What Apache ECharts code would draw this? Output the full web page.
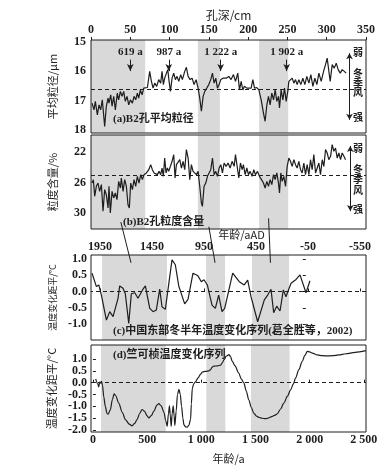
<!DOCTYPE html>
<html>
<head>
<meta charset="utf-8">
<script src="https://cdn.jsdelivr.net/npm/echarts@6/dist/echarts.min.js"></script>
<style>
  html, body { margin: 0; padding: 0; background: #fff; }
  #chart { width: 381px; height: 475px; }
</style>
</head>
<body>
<div id="chart"></div>
<script>
// (a) B2 mean grain size, depth in cm
const depthA = [1.3,3.8,5.5,8.1,10.2,12.3,14.4,17.4,19.5,21.7,22.9,25.1,26.8,28.9,31.0,33.5,35.2,37.4,39.5,41.6,43.7,45.9,48.0,50.1,52.7,54.8,56.9,59.0,60.7,62.8,65.0,67.1,69.2,71.8,74.7,76.9,79.0,81.1,83.6,86.2,88.7,90.4,92.1,93.8,96.0,97.7,99.4,101.1,103.2,105.3,107.4,109.5,111.7,114.2,116.3,119.3,121.4,123.6,126.1,128.7,131.2,133.8,136.3,138.4,140.5,142.7,144.8,147.3,149.9,152.4,154.6,156.7,158.8,160.9,163.1,165.2,168.1,
  172.0,175.4,178.3,181.3,183.9,186.8,189.0,191.1,193.2,195.3,198.3,200.8,203.8,206.0,208.1,211.0,213.6,216.6,219.5,221.6,223.8,225.9,228.0,230.1,232.3,234.4,236.5,238.6,239.9,242.0,244.2,246.3,248.4,250.5,251.8,253.9,256.0,258.2,260.3,262.4,264.5,267.1,269.6,272.2,274.7,277.3,279.8,282.4,284.9,287.5,290.0,293.0,296.0,298.5,300.6,302.7,304.4,307.0,309.5,312.1,314.6,317.2,319.7,322.3,324.8];
const meanSize = [17.08,17.31,17.02,17.48,17.14,17.31,16.97,17.88,17.19,16.91,17.08,16.80,17.19,16.85,17.31,16.74,16.97,16.68,16.85,16.68,17.02,16.85,17.14,16.97,17.08,16.85,16.97,16.74,16.91,16.63,16.80,16.57,16.63,16.55,16.00,16.34,16.57,16.40,16.51,16.28,16.40,16.00,16.45,16.23,16.06,15.94,16.34,16.68,16.23,16.06,16.28,16.17,16.34,16.11,16.28,16.00,15.86,16.17,16.28,16.23,16.45,16.28,16.57,16.91,17.36,16.85,16.68,16.57,16.45,16.28,16.06,16.40,16.23,16.57,16.45,16.28,16.23,
  16.23,16.17,16.28,16.11,16.34,16.06,16.63,16.34,16.63,16.51,16.57,16.51,16.57,16.28,16.57,16.55,16.63,16.97,17.42,17.70,17.14,16.85,17.14,16.74,16.97,16.63,17.02,16.85,17.25,16.63,16.97,16.57,17.02,16.68,16.34,16.40,16.23,16.40,16.28,16.45,16.28,16.45,16.23,16.45,16.17,16.40,16.11,16.51,16.23,16.45,16.06,16.34,16.00,15.77,15.55,15.60,16.34,15.77,15.89,15.72,15.94,16.06,15.94,16.00,16.06];

// (b) B2 grain-size fraction content, %
const depthB = [1.3,3.0,4.7,6.8,8.9,11.0,13.2,15.3,17.4,19.5,21.7,22.9,24.6,26.8,28.9,31.0,33.1,35.2,37.4,38.6,40.8,42.9,45.0,47.1,48.8,50.5,52.7,54.8,56.9,59.0,61.1,63.3,65.4,67.5,70.5,73.5,76.0,78.1,80.3,82.4,84.5,86.6,88.7,90.4,92.1,93.8,95.5,97.2,98.9,101.1,103.2,105.3,107.0,108.7,110.8,113.0,115.1,117.2,119.3,121.4,123.6,125.7,127.8,129.9,132.0,134.2,136.3,138.4,140.5,141.8,143.9,146.1,148.2,150.3,152.4,154.6,156.7,158.8,160.9,163.1,165.2,167.3,169.4,
  172.0,174.5,177.1,179.6,182.2,183.9,186.0,188.1,190.2,192.4,194.0,196.2,198.3,200.4,202.5,205.1,207.2,209.3,211.9,214.4,217.0,219.5,221.6,223.8,225.9,228.0,230.1,232.3,234.4,236.5,238.6,239.9,241.6,243.3,245.4,247.6,249.7,251.8,253.9,256.0,258.2,260.3,262.4,264.5,266.7,268.8,270.9,273.0,275.1,277.3,279.4,281.5,283.6,285.8,287.9,290.0,292.1,294.3,296.4,298.5,300.6,302.7,304.9,307.0,309.1,311.2,313.4,315.5,317.6,319.7,321.9,324.0];
const content = [26.07,25.63,27.81,26.50,26.07,27.16,26.28,29.78,26.94,27.60,29.34,26.50,30.00,27.16,28.03,27.38,28.25,25.85,26.72,25.41,27.16,25.63,26.50,28.91,29.34,26.07,26.94,25.63,26.50,25.19,26.07,24.97,25.63,24.97,24.75,24.32,23.66,24.32,24.75,24.54,24.97,24.54,24.97,24.10,25.19,22.79,24.75,24.10,24.54,24.32,23.22,22.35,25.41,23.66,23.88,23.01,24.10,23.22,24.32,21.69,22.79,25.63,23.66,24.54,24.32,24.97,24.54,26.50,28.69,29.13,26.50,26.07,25.19,24.97,24.32,22.79,24.97,24.54,25.19,24.10,23.66,24.75,23.44,
  23.88,23.44,24.10,23.22,23.88,22.35,22.57,25.41,23.44,24.32,23.66,24.97,24.10,24.97,24.54,25.19,24.32,24.97,24.54,25.19,25.63,26.07,26.72,25.85,26.50,25.63,26.28,24.97,25.63,24.75,26.07,27.38,24.75,25.85,25.19,26.50,23.88,22.79,23.22,23.88,23.01,23.66,24.10,23.22,24.32,24.75,23.44,24.97,23.66,24.97,23.01,24.32,22.35,24.75,24.54,23.44,24.97,23.01,23.88,21.69,22.13,23.01,22.57,21.04,21.91,21.48,22.79,22.13,23.01,22.13,22.57,23.01];

// (c) winter half-year temperature anomaly, eastern China (year AD)
const yearC = [2027,1985,1962,1937,1889,1857,1825,1777,1761,1729,1707,1674,1649,1616,1585,1537,1514,1472,1440,1409,1376,1354,1322,1258,1226,1193,1136,1104,1056,1008,976,950,918,873,841,809,777,751,674,611,563,530,498,434,370,338,306,280,251,219,187,162,113,65,27,-31,-69];
const tempC = [0.56,0.15,0.2,-0.11,-0.88,-0.62,-0.77,-0.21,0.17,0.1,-0.07,-0.98,-0.07,-0.04,-0.21,0.07,0.17,-0.52,-0.62,-0.57,0.07,-0.47,-0.55,0.97,0.82,0.17,-0.38,-0.24,0.56,0.48,0.3,0.36,0.2,-0.42,-0.52,-0.11,-0.62,-0.52,0.56,0.3,0.2,0.35,-0.16,-0.93,-0.26,-0.11,0.07,-0.65,-0.45,-0.6,0.05,-0.16,0.25,0.37,0.51,-0.04,0.33];

// (d) Zhu Kezhen temperature curve (age, a)
const ageD = [25,45,53,62,70,78,88,100,114,130,140,160,180,195,210,238,270,300,335,361,385,407,430,454,475,500,516,540,562,590,608,630,655,672,685,697,706,714,722,731,741,749,756,768,780,794,806,818,830,840,855,870,885,901,908,917,930,947,970,994,1010,1040,1070,1086,1100,1118,1150,1179,1195,1210,1230,1255,1270,1284,1310,1345,1370,1392,1415,1438,1462,1484,1510,1531,1560,1593,1625,1655,1680,1701,1730,1762,1795,1824,1850,1870,1900,1932,1955,1979,2000,2025,2070,2118,2165,2210,2270,2333,2420,2519];
const tempD = [0.16,-0.05,-0.18,0.02,-0.02,0.06,-0.1,-0.6,-1.0,-1.3,-1.33,-1.15,-0.7,-0.47,-0.55,-0.86,-1.25,-1.56,-1.75,-1.82,-1.72,-1.56,-1.3,-1.13,-1.2,-1.4,-1.49,-1.38,-1.2,-0.95,-0.88,-0.98,-1.25,-1.6,-1.84,-1.3,-0.98,-1.4,-1.84,-1.3,-0.98,-1.4,-1.8,-1.2,-0.5,-0.28,-0.5,-1.0,-1.5,-1.78,-1.86,-1.88,-1.8,-1.55,-0.9,-0.23,-0.05,0.04,0.2,0.36,0.45,0.48,0.5,0.55,0.66,0.70,0.71,0.74,0.85,0.97,1.12,1.18,1.1,0.92,0.72,0.41,0.15,0.0,-0.35,-0.72,-1.05,-1.28,-1.41,-1.46,-1.5,-1.52,-1.48,-1.42,-1.37,-1.31,-1.12,-0.86,-0.57,-0.3,-0.05,0.2,0.55,0.9,1.15,1.32,1.3,1.25,1.17,1.14,1.13,1.14,1.17,1.22,1.28,1.35];

// shaded intervals and reference levels
const bandsDepth = [[0, 69], [136, 164], [214, 251]];
const bandsYear = [[1931, 1306], [931, 748], [488, 133]];
const bandsAge = [[74, 671], [1046, 1222], [1458, 1815]];
const meanRef = 16.6;
const contentRef = 25;

// age markers on (a)
const markerDepths = [50, 99, 165, 249];
const markerLabels = ['619 a', '987 a', '1 222 a', '1 902 a'];

// depth -> year tie lines between (b) and (c)
const linkDepths = [38, 150, 226];
const linkTop = [31.2, 31.8, 30.7];
const linkYears = [1652, 844, 311];
const linkBottom = 0.88;

// tick labels
const depthTicks = [0, 50, 100, 150, 200, 250, 300, 350];
const yearTicks = [1950, 1450, 950, 450, -50, -550];
const ageTicks = [0, 500, 1000, 1500, 2000, 2500];
const meanTicks = [15, 16, 17, 18];
const contentTicks = [22, 26, 30];
const tempTicksC = [1.0, 0.5, 0.0, -0.5, -1.0];
const tempTicksD = [1.0, 0.5, 0.0, -0.5, -1.0, -1.5, -2.0];

const serif = "'Liberation Serif', 'Noto Sans CJK SC', serif";
const cjk = "'Noto Sans CJK SC', sans-serif";
const ink = '#1e1e1e';
const shade = '#d9d9d9';

const zip = (xs, ys) => xs.map((x, i) => [x, ys[i]]);
const areas = bands => bands.map(b => [{ xAxis: b[0] }, { xAxis: b[1] }]);
const numLabel = { color: ink, fontFamily: serif, fontWeight: 'bold', fontSize: 12 };
const dashed = { type: [4, 3], color: ink, width: 1 };

function valueAxis(extra) {
  return Object.assign({
    type: 'value',
    axisLine: { show: false },
    splitLine: { show: false },
    axisTick: { show: true, inside: true, length: 3, lineStyle: { color: ink } },
    axisLabel: Object.assign({ margin: 5 }, numLabel),
    nameTextStyle: { color: ink, fontFamily: cjk, fontSize: 11 }
  }, extra);
}

const grids = [
  { left: 91, right: 15, top: 40, height: 93 },
  { left: 91, right: 15, top: 135, height: 94 },
  { left: 91, right: 15, top: 255, height: 85 },
  { left: 91, right: 15, top: 345, height: 87 }
].map(g => Object.assign(g, { show: true, borderColor: ink, borderWidth: 1, backgroundColor: 'transparent', z: 5, outerBoundsMode: 'none' }));

const ageArrows = markerDepths.map((d, i) => [
  { coord: [d, 15.6], symbol: 'none', lineStyle: { type: 'solid', color: ink, width: 1 },
    label: { show: true, position: 'start', distance: 2, formatter: markerLabels[i], color: ink, fontFamily: serif, fontWeight: 'bold', fontSize: 11 } },
  { coord: [d, 15.99], symbol: 'arrow', symbolSize: [5, 7], lineStyle: { type: 'solid', color: ink, width: 1 } }
]);

const option = {
  animation: false,
  grid: grids,
  xAxis: [
    valueAxis({ gridIndex: 0, position: 'top', min: 0, max: 350, name: '孔深/cm', nameLocation: 'middle', nameGap: 19,
      nameTextStyle: { color: ink, fontFamily: cjk, fontSize: 12 },
      axisTick: { show: true, inside: false, length: 3, customValues: depthTicks, lineStyle: { color: ink } },
      axisLabel: Object.assign({ margin: 4, customValues: depthTicks, formatter: v => String(v) }, numLabel) }),
    valueAxis({ gridIndex: 1, min: 0, max: 350, axisTick: { show: false }, axisLabel: { show: false } }),
    valueAxis({ gridIndex: 2, position: 'top', inverse: true, min: -608, max: 2037, name: '年龄/aAD', nameLocation: 'middle', nameGap: 14,
      nameTextStyle: { color: ink, fontFamily: cjk, fontSize: 11, padding: [0, 0, 0, 26] },
      axisTick: { show: true, inside: false, length: 3, customValues: yearTicks, lineStyle: { color: ink } },
      axisLabel: Object.assign({ margin: 2, customValues: yearTicks, formatter: v => String(v) }, numLabel) }),
    valueAxis({ gridIndex: 3, position: 'bottom', min: -18, max: 2520, name: '年龄/a', nameLocation: 'middle', nameGap: 21,
      axisTick: { show: true, inside: true, length: 3, customValues: ageTicks, lineStyle: { color: ink } },
      axisLabel: Object.assign({ margin: 2, customValues: ageTicks,
        formatter: v => v >= 1000 ? String(v).replace(/(\d)(\d{3})$/, '$1 $2') : String(v) }, numLabel) })
  ],
  yAxis: [
    valueAxis({ gridIndex: 0, inverse: true, min: 14.93, max: 18.1, name: '平均粒径/μm', nameLocation: 'middle', nameGap: 33,
      axisTick: { show: true, inside: true, length: 3, customValues: meanTicks, lineStyle: { color: ink } },
      axisLabel: Object.assign({ margin: 5, customValues: meanTicks }, numLabel) }),
    valueAxis({ gridIndex: 1, inverse: true, min: 19.77, max: 32.1, name: '粒度含量/%', nameLocation: 'middle', nameGap: 33,
      axisTick: { show: true, inside: true, length: 3, customValues: contentTicks, lineStyle: { color: ink } },
      axisLabel: Object.assign({ margin: 5, customValues: contentTicks }, numLabel) }),
    valueAxis({ gridIndex: 2, min: -1.49, max: 1.12, name: '温度变化距平/°C', nameLocation: 'middle', nameGap: 33,
      nameTextStyle: { color: ink, fontFamily: cjk, fontSize: 9 },
      axisTick: { show: true, inside: true, length: 3, customValues: tempTicksC, lineStyle: { color: ink } },
      axisLabel: Object.assign({ margin: 4, customValues: tempTicksC, formatter: v => v.toFixed(1) }, numLabel) }),
    valueAxis({ gridIndex: 3, min: -2.08, max: 1.59, name: '温度变化距平/°C', nameLocation: 'middle', nameGap: 30,
      axisTick: { show: true, inside: true, length: 3, customValues: tempTicksD, lineStyle: { color: ink } },
      axisLabel: Object.assign({ margin: 4, customValues: tempTicksD, formatter: v => v.toFixed(1) }, numLabel) })
  ],
  series: [
    {
      type: 'line', xAxisIndex: 0, yAxisIndex: 0, symbol: 'none',
      data: zip(depthA, meanSize),
      lineStyle: { color: ink, width: 1.2 },
      markArea: { silent: true, itemStyle: { color: shade }, data: areas(bandsDepth) },
      markLine: {
        silent: true, symbol: 'none', label: { show: false }, lineStyle: dashed,
        data: [{ yAxis: meanRef }].concat(ageArrows, [[
          { coord: [329, 15.38], symbol: 'arrow', symbolSize: [5, 6], lineStyle: { type: 'solid', color: ink, width: 1 } },
          { coord: [329, 17.65], symbol: 'arrow', symbolSize: [5, 6], lineStyle: { type: 'solid', color: ink, width: 1 } }
        ]])
      }
    },
    {
      type: 'line', xAxisIndex: 1, yAxisIndex: 1, symbol: 'none',
      data: zip(depthB, content),
      lineStyle: { color: ink, width: 1.2 },
      markArea: { silent: true, itemStyle: { color: shade }, data: areas(bandsDepth) },
      markLine: {
        silent: true, symbol: 'none', label: { show: false }, lineStyle: dashed,
        data: [{ yAxis: contentRef }, [
          { coord: [330, 21.2], symbol: 'arrow', symbolSize: [5, 6], lineStyle: { type: 'solid', color: ink, width: 1 } },
          { coord: [330, 29.75], symbol: 'arrow', symbolSize: [5, 6], lineStyle: { type: 'solid', color: ink, width: 1 } }
        ]]
      }
    },
    {
      type: 'line', xAxisIndex: 2, yAxisIndex: 2, symbol: 'none',
      data: zip(yearC, tempC),
      lineStyle: { color: ink, width: 1.2 },
      markArea: { silent: true, itemStyle: { color: shade }, data: areas(bandsYear) },
      markLine: { silent: true, symbol: 'none', label: { show: false }, lineStyle: dashed, data: [{ yAxis: 0 }] }
    },
    {
      type: 'line', xAxisIndex: 3, yAxisIndex: 3, symbol: 'none', smooth: 0.3, smoothMonotone: 'x',
      data: zip(ageD, tempD),
      lineStyle: { color: ink, width: 1.2 },
      markArea: { silent: true, itemStyle: { color: shade }, data: areas(bandsAge) },
      markLine: { silent: true, symbol: 'none', label: { show: false }, lineStyle: dashed, data: [{ yAxis: 0 }] }
    }
  ]
};

const chart = echarts.init(document.getElementById('chart'), null, { renderer: 'canvas' });
chart.setOption(option);

// text annotations
function txt(text, x, y, size, align, family) {
  return {
    type: 'text', z: 20, silent: true,
    style: { text: text, x: x, y: y, fill: ink, align: align || 'left', verticalAlign: 'middle',
      fontFamily: family || serif, fontWeight: 'bold', fontSize: size }
  };
}
const graphics = [
  txt('(a)B2孔平均粒径', 113, 119, 11),
  txt('(b)B2孔粒度含量', 123, 222, 11),
  txt('(c)中国东部冬半年温度变化序列(葛全胜等，2002)', 113, 331, 11),
  txt('(d)竺可桢温度变化序列', 113, 355, 11)
];
[['弱', 52], ['冬', 73], ['季', 83], ['风', 92], ['强', 117]].forEach(p => graphics.push(txt(p[0], 358, p[1], 10, 'center', cjk)));
[['弱', 148], ['冬', 169], ['季', 179], ['风', 190], ['强', 209]].forEach(p => graphics.push(txt(p[0], 358, p[1], 10, 'center', cjk)));

// tie lines from depth in (b) to age in (c)
linkDepths.forEach((d, i) => {
  const p1 = chart.convertToPixel({ xAxisIndex: 1, yAxisIndex: 1 }, [d, linkTop[i]]);
  const p2 = chart.convertToPixel({ xAxisIndex: 2, yAxisIndex: 2 }, [linkYears[i], linkBottom]);
  graphics.push({
    type: 'line', z: 20, silent: true,
    shape: { x1: p1[0], y1: p1[1], x2: p2[0], y2: p2[1] },
    style: { stroke: ink, lineWidth: 1 }
  });
});
chart.setOption({ graphic: graphics });
</script>
</body>
</html>
